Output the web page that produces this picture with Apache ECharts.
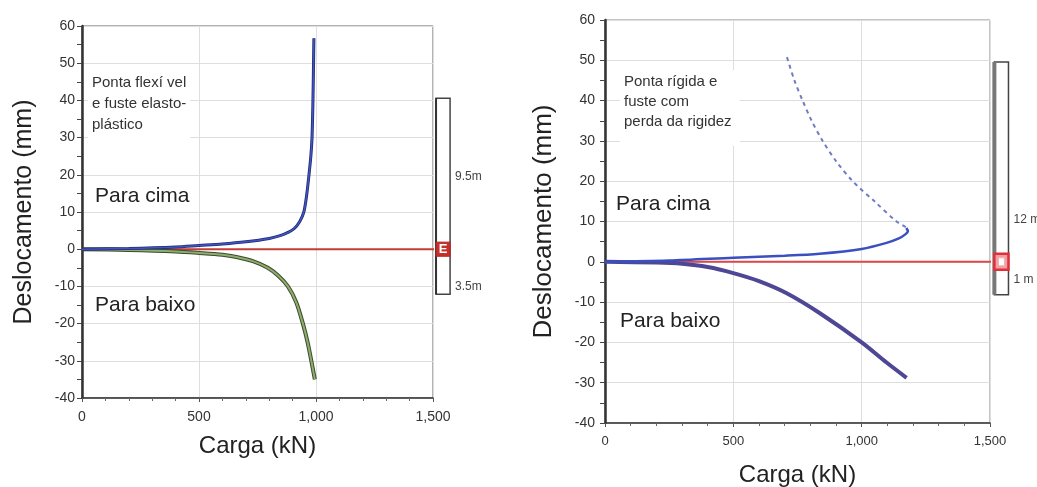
<!DOCTYPE html>
<html>
<head>
<meta charset="utf-8">
<script src="https://cdn.jsdelivr.net/npm/echarts@6/dist/echarts.min.js"></script>
<style>
html, body { margin: 0; padding: 0; background: #fff; }
#chart { width: 1037px; height: 487px; }
</style>
</head>
<body>
<div id="chart"></div>
<script>
// carga (kN) x deslocamento (mm)
// esquerda: ponta flexivel e fuste elasto-plastico
const leftUp = [[0, 0], [200, 0.2], [400, 0.6], [500, 1], [600, 1.4], [700, 2], [800, 2.9], [850, 3.7], [880, 4.5], [906, 5.5], [930, 7.4], [948, 10], [960, 14.5], [970, 20], [978, 25], [983, 30], [987, 40], [989, 48], [991, 56.7]];
const leftDown = [[0, 0], [200, -0.2], [400, -0.6], [500, -1], [600, -1.5], [660, -2.1], [730, -3.2], [794, -5], [840, -7.2], [880, -10], [915, -14.2], [944, -20], [964, -25], [980, -30], [995, -35]];
// direita: ponta rigida e fuste com perda da rigidez
const rightUp = [[0, 0], [250, 0.3], [500, 1], [700, 1.5], [836, 2], [1000, 3.2], [1097, 4.7], [1145, 5.8], [1170, 6.8], [1180, 7.6], [1174, 8.4]];
const rightUpDashed = [[1172, 8.6], [1136, 10], [1050, 15], [965, 20], [900, 25], [848, 30], [805, 35], [770, 40], [738, 45], [708, 51]];
const rightDown = [[0, 0], [200, -0.2], [300, -0.5], [400, -1.3], [500, -2.8], [600, -4.8], [708, -7.8], [836, -12.7], [1000, -20], [1097, -25], [1175, -28.8]];
const zeroLine = [[0, 0], [1515, 0]];

const xTicks = [0, 500, 1000, 1500];
const yTicks = [-40, -30, -20, -10, 0, 10, 20, 30, 40, 50, 60];

// estaca: [x0, topo, x1, base, caixa topo, caixa base, rotulo 1 y, rotulo 2 y]
const pileLeft = [[1513, 40.6, 1573, -12.1, 1.9, -1.9, 19.6, -10]];
const pileLeftLabels = ['9.5m', '3.5m'];
const pileRight = [[1517, 49.6, 1572, -8.2, 2, -2, 10.4, -4.5]];
const pileRightLabels = ['12 m', '1 m'];

const FONT = 'Liberation Sans';

function fmt(v) {
    return v >= 1000 ? Math.floor(v / 1000) + ',' + String(v % 1000).padStart(3, '0') : String(v);
}

function xAxisOf(idx, labelSize, nameGap) {
    return {
        gridIndex: idx, type: 'value', min: xTicks[0], max: xTicks[xTicks.length - 1], interval: 500,
        name: 'Carga (kN)', nameLocation: 'middle', nameGap: nameGap,
        nameTextStyle: { fontFamily: FONT, fontSize: 24, color: '#222' },
        axisLine: { onZero: false, lineStyle: { color: '#333', width: 1.5 } },
        axisTick: { show: true, length: 4, lineStyle: { color: '#555' } },
        minorTick: { show: true, splitNumber: 5, length: 3, lineStyle: { color: '#666' } },
        splitLine: { show: true, lineStyle: { color: '#dedede' } },
        axisLabel: { fontFamily: FONT, fontSize: labelSize, color: '#333', margin: 12, formatter: fmt }
    };
}

function yAxisOf(idx, labelSize, nameSize, nameGap, margin) {
    return {
        gridIndex: idx, type: 'value', min: yTicks[0], max: yTicks[yTicks.length - 1], interval: 10,
        name: 'Deslocamento (mm)', nameLocation: 'middle', nameGap: nameGap,
        nameTextStyle: { fontFamily: FONT, fontSize: nameSize, color: '#222' },
        axisLine: { show: true, onZero: false, lineStyle: { color: '#333', width: 2.5 } },
        axisTick: { show: true, length: 5, lineStyle: { color: '#444' } },
        minorTick: { show: true, splitNumber: 2, length: 5, lineStyle: { color: '#444' } },
        splitLine: { show: true, lineStyle: { color: '#dedede' } },
        axisLabel: { fontFamily: FONT, fontSize: labelSize, color: '#333', margin: margin }
    };
}

function pileRender(labels, kind) {
    return function (params, api) {
        const a = api.coord([api.value(0), api.value(1)]);
        const b = api.coord([api.value(2), api.value(3)]);
        const c = api.coord([api.value(0), api.value(4)]);
        const d = api.coord([api.value(2), api.value(5)]);
        const t1 = api.coord([api.value(2), api.value(6)]);
        const t2 = api.coord([api.value(2), api.value(7)]);
        const kids = [
            { type: 'rect', shape: { x: a[0], y: a[1], width: b[0] - a[0], height: b[1] - a[1] },
              style: { fill: '#fff', stroke: '#444', lineWidth: 1.5 } },
            { type: 'line', shape: { x1: a[0], y1: a[1], x2: a[0], y2: b[1] },
              style: { stroke: kind === 'E' ? '#333' : '#777', lineWidth: kind === 'E' ? 2 : 4 } }
        ];
        if (kind === 'E') {
            kids.push({ type: 'rect', shape: { x: c[0], y: c[1], width: d[0] - c[0], height: d[1] - c[1] },
                style: { fill: '#c4302c', stroke: '#b02a26', lineWidth: 1 } });
            kids.push({ type: 'text', x: (c[0] + d[0]) / 2, y: (c[1] + d[1]) / 2,
                style: { text: 'E', fill: '#fff', font: 'bold 13px ' + FONT, align: 'center', verticalAlign: 'middle' } });
        } else {
            kids.push({ type: 'rect', shape: { x: c[0], y: c[1], width: d[0] - c[0], height: d[1] - c[1] },
                style: { fill: '#f2a0a4', stroke: '#e2303a', lineWidth: 2.5 } });
            kids.push({ type: 'rect', shape: { x: (c[0] + d[0]) / 2 - 3, y: (c[1] + d[1]) / 2 - 4, width: 6, height: 8 },
                style: { fill: '#fff', stroke: '#f0b0b0', lineWidth: 1 } });
        }
        kids.push({ type: 'text', x: t1[0] + 5, y: t1[1],
            style: { text: labels[0], fill: '#444', font: '12px ' + FONT, align: 'left', verticalAlign: 'middle' } });
        kids.push({ type: 'text', x: t2[0] + 5, y: t2[1],
            style: { text: labels[1], fill: '#444', font: '12px ' + FONT, align: 'left', verticalAlign: 'middle' } });
        return { type: 'group', children: kids };
    };
}

function line(idx, data, color, width, extra) {
    return Object.assign({
        type: 'line', xAxisIndex: idx, yAxisIndex: idx, data: data, symbol: 'none',
        smooth: 0.3, lineStyle: { color: color, width: width }, silent: true, clip: false
    }, extra || {});
}

const chart = echarts.init(document.getElementById('chart'), null, { renderer: 'canvas' });
chart.setOption({
    animation: false,
    backgroundColor: '#fff',
    grid: [
        { left: 82, top: 26, width: 351, height: 372, show: true, borderColor: '#666', borderWidth: 1, outerBoundsMode: 'none', containLabel: false },
        { left: 605, top: 20, width: 385, height: 403, show: true, borderColor: '#888', borderWidth: 1, outerBoundsMode: 'none', containLabel: false }
    ],
    xAxis: [xAxisOf(0, 14, 36), xAxisOf(1, 13, 40)],
    yAxis: [yAxisOf(0, 14, 25, 45, 7), yAxisOf(1, 14, 26, 48, 10)],
    series: [
        line(0, zeroLine, '#c43c34', 2, { smooth: false }),
        line(0, leftDown, '#3c4a30', 4),
        line(0, leftDown, '#8fae6c', 2),
        line(0, leftUp, '#1e2a70', 3),
        line(0, leftUp, '#4254c2', 1.5),
        { type: 'custom', xAxisIndex: 0, yAxisIndex: 0, clip: false, silent: true,
          renderItem: pileRender(pileLeftLabels, 'E'), data: pileLeft },

        line(1, zeroLine, '#e04848', 2, { smooth: false }),
        line(1, rightDown, '#4e4894', 4),
        line(1, rightUp, '#3a4fc0', 2.5),
        line(1, rightUpDashed, '#6f7cc0', 2, { lineStyle: { color: '#6f7cc0', width: 2, type: [4, 4] } }),
        { type: 'custom', xAxisIndex: 1, yAxisIndex: 1, clip: false, silent: true,
          renderItem: pileRender(pileRightLabels, 'R'), data: pileRight }
    ],
    graphic: [
        { type: 'text', left: 88, top: 70, z: 50, style: { text: 'Ponta flexí vel\ne fuste elasto-\nplástico', fill: '#333', font: '15px ' + FONT, lineHeight: 21, backgroundColor: '#fff', padding: [2, 4, 4, 4] } },
        { type: 'text', left: 95, top: 186, z: 50, style: { text: 'Para cima', fill: '#222', font: '21px ' + FONT } },
        { type: 'text', left: 95, top: 295, z: 50, style: { text: 'Para baixo', fill: '#222', font: '21px ' + FONT } },
        { type: 'text', left: 620, top: 70, z: 50, style: { text: 'Ponta rígida e\nfuste com\nperda da rigidez', fill: '#333', font: '15px ' + FONT, lineHeight: 20, backgroundColor: '#fff', padding: [2, 8, 14, 4] } },
        { type: 'text', left: 616, top: 194, z: 50, style: { text: 'Para cima', fill: '#222', font: '21px ' + FONT } },
        { type: 'text', left: 620, top: 311, z: 50, style: { text: 'Para baixo', fill: '#222', font: '21px ' + FONT } }
    ]
});
</script>
</body>
</html>
